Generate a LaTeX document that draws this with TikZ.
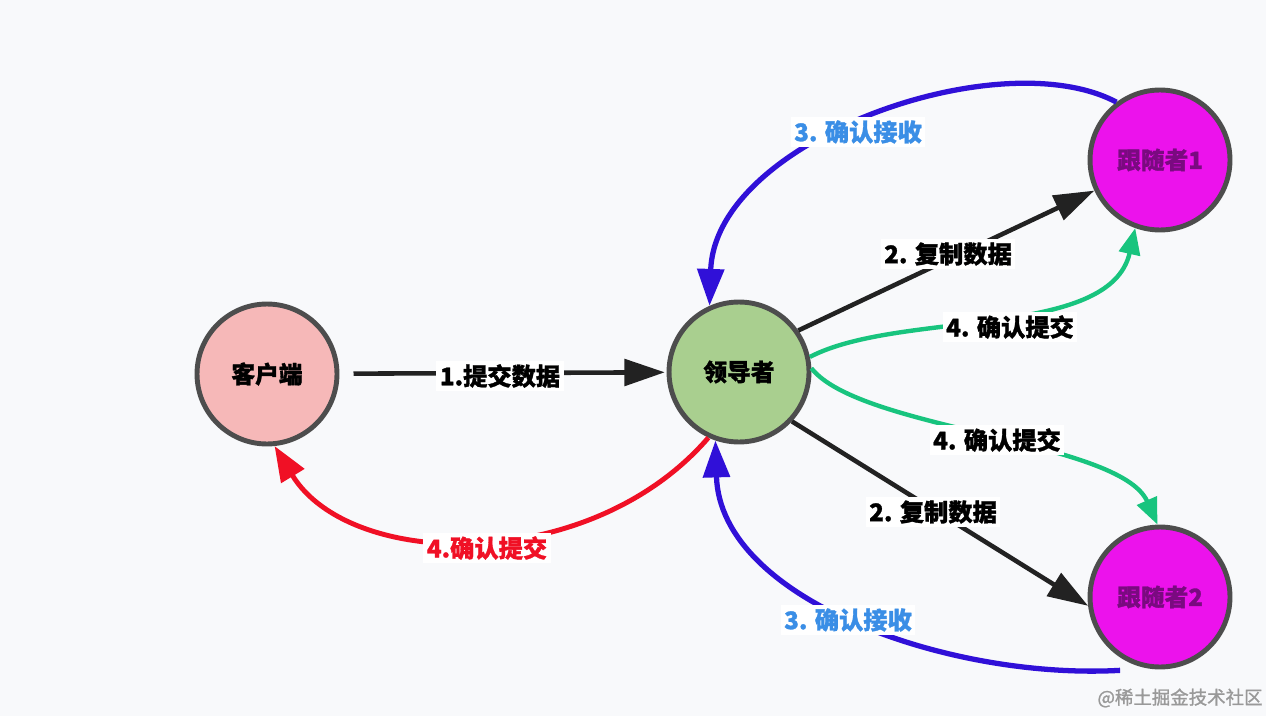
\documentclass[tikz,border=0pt]{standalone}
\usepackage{fontspec}
\setmainfont{Noto Sans CJK SC}[FakeBold=1.2]
\usetikzlibrary{arrows.meta}
\definecolor{bgc}{HTML}{F8F9FB}
\definecolor{ringc}{HTML}{4D4D4D}
\definecolor{clientc}{HTML}{F6B8B8}
\definecolor{leaderc}{HTML}{A9CF8F}
\definecolor{followc}{HTML}{EC12EC}
\definecolor{followt}{HTML}{7A0A80}
\definecolor{bluec}{HTML}{3010D8}
\definecolor{bluet}{HTML}{3A8EE6}
\definecolor{redc}{HTML}{F01025}
\definecolor{greenc}{HTML}{18C47E}
\definecolor{blackc}{HTML}{222222}
\tikzset{
  actor/.style={circle, draw=ringc, line width=2.8pt, minimum size=2.8cm, inner sep=0pt,
    font=\fontsize{13.5}{16}\selectfont\bfseries},
  lab/.style={fill=white, inner sep=2pt, font=\fontsize{13.8}{16}\selectfont\bfseries},
  blk/.style={draw=blackc, line width=2.6pt, -{Triangle[length=23pt,width=15pt]}},
  blu/.style={draw=bluec, line width=3pt, -{Triangle[length=21pt,width=15pt]}},
  grn/.style={draw=greenc, line width=2.5pt, -{Triangle[length=15pt,width=12pt]}},
  rd/.style={draw=redc, line width=2.8pt, -{Triangle[length=20pt,width=15pt]}},
}
\begin{document}
\begin{tikzpicture}[x=0.02cm, y=-0.02cm]
\fill[bgc] (0,0) rectangle (1266,716);
\useasboundingbox (0,0) rectangle (1266,716);

\node[actor, fill=clientc] (client) at (267,374) {客户端};
\node[actor, fill=leaderc] (leader) at (739,372) {领导者};
\node[actor, fill=followc, text=followt] (f1) at (1160,160) {跟随者1};
\node[actor, fill=followc, text=followt] (f2) at (1160,597) {跟随者2};

% replicate data
\draw[blk, shorten <=8pt, shorten >=1pt] (client) -- (leader);
\draw[blk] (leader.35) -- (f1.205);
\draw[blk] (leader.-43) -- (f2.187);

% acknowledgements (blue)
\draw[blu] (f1.127) .. controls (1000,40) and (715,140) .. (leader.114);
\draw[blu] ([xshift=-4pt,yshift=-5pt]f2.-117) .. controls (950,680) and (720,600) .. (leader.-109);

% commit to client (red)
\draw[rd] (leader.-115) .. controls (590,575) and (350,570) .. (client.-84);

% commit to followers (green)
\draw[grn] (leader.12) .. controls (900,310) and (1110,340) .. (f1.-110);
\draw[grn] (leader.3) .. controls (860,430) and (1120,440) .. (f2.92);

% labels
\node[lab] (l1) at (500,376) {1.提交数据};
\node[lab] (l2a) at (948,254) {2. 复制数据};
\node[lab] (l2b) at (933,512) {2. 复制数据};
\node[lab, text=bluet] (l3a) at (858,132) {3. 确认接收};
\node[lab, text=bluet] (l3b) at (848,620) {3. 确认接收};
\node[lab, text=redc] (l4r) at (487,548) {4.确认提交};
\node[lab] (l4a) at (1010,327) {4. 确认提交};
\node[lab] (l4b) at (997,440) {4. 确认提交};

\node[text=black!40, font=\fontsize{10.5}{12}\selectfont] (wm) at (1180,698) {@稀土掘金技术社区};
\end{tikzpicture}
\end{document}
